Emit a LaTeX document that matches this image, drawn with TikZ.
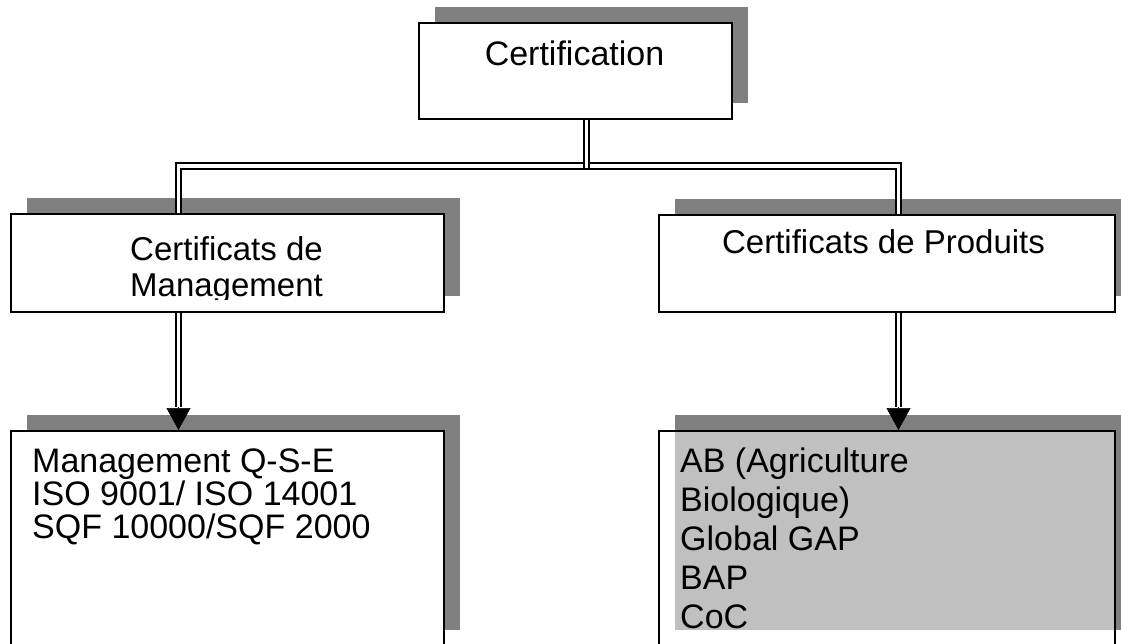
\documentclass[tikz,border=0pt]{standalone}
\usepackage{fontspec}
\setmainfont{Liberation Sans}
\usetikzlibrary{arrows.meta,calc,shadows}
\definecolor{shadowgray}{HTML}{808080}
\definecolor{innergray}{HTML}{C0C0C0}
\begin{document}
\begin{tikzpicture}[x=1pt,y=-1pt,
  box/.style={draw=black, line width=2pt, fill=white, inner sep=0pt, anchor=north west,
    drop shadow={shadow xshift=16pt, shadow yshift=16pt, fill=shadowgray, opacity=1}},
  dline/.style={draw=black, double=white, double distance=3.2pt, line width=2pt},
  arrowtip/.style={draw=black, line width=0.6pt, -{Triangle[width=24pt,length=22pt]}},
  bigtxt/.style={font=\fontsize{34}{34}\selectfont, inner sep=0pt},
  midtxt/.style={font=\fontsize{33}{33}\selectfont, inner sep=0pt}]
\clip (0,0) rectangle (1121,643);
\fill[white] (0,0) rectangle (1121,643);

% boxes
\node[box, minimum width=313pt, minimum height=96pt] (top) at (418,22) {};
\node[box, minimum width=433pt, minimum height=98pt] (mL) at (10,213) {};
\node[box, minimum width=456pt, minimum height=97pt] (mR) at (658,214) {};
\node[box, minimum width=433pt, minimum height=215pt] (bL) at (10,430) {};
\node[box, minimum width=456pt, minimum height=215pt,
  path picture={\fill[innergray] ($(path picture bounding box.north west)+(16pt,0pt)$)
     rectangle ($(path picture bounding box.south east)+(0pt,16pt)$);}] (bR) at (658,430) {};

% texts
\node[bigtxt, anchor=base] (tC) at (574.5,65) {Certification};
\node[midtxt, anchor=base] (tM1) at (226.5,260) {Certificats de};
\begin{scope}
  \clip (10,213) rectangle (443,299);
  \node[midtxt, anchor=base] (tM2) at (226.5,296) {Management};
\end{scope}
\node[midtxt, anchor=base] (tP) at (883.5,253) {Certificats de Produits};

\node[bigtxt, anchor=base west] (l1) at (32,472) {Management Q-S-E};
\node[bigtxt, anchor=base west] (l2) at (32,505) {ISO 9001/ ISO 14001};
\node[bigtxt, anchor=base west] (l3) at (32,538) {SQF 10000/SQF 2000};

\node[bigtxt, anchor=base west] (r1) at (680,472) {AB (Agriculture};
\node[bigtxt, anchor=base west] (r2) at (680,511) {Biologique)};
\node[bigtxt, anchor=base west] (r3) at (680,550) {Global GAP};
\node[bigtxt, anchor=base west] (r4) at (680,589) {BAP};
\node[bigtxt, anchor=base west] (r5) at (680,628) {CoC};

% connectors
\coordinate (jT) at (586.5,166);
\coordinate (jL) at (178.5,166);
\coordinate (jR) at (898.5,166);
\coordinate (jTe) at (586.5,168);
\draw[dline] (jL |- mL.north) -- (jL) -- (jR) -- (jR |- mR.north);
\draw[dline] (jT |- top.south) -- (jTe);

\coordinate (aL) at (178.5,407);
\coordinate (aR) at (898.5,407);
\draw[dline] (aL |- mL.south) -- (aL);
\draw[dline] (aR |- mR.south) -- (aR);
\draw[arrowtip] (aL) -- (aL |- bL.north);
\draw[arrowtip] (aR) -- (aR |- bR.north);
\end{tikzpicture}
\end{document}
